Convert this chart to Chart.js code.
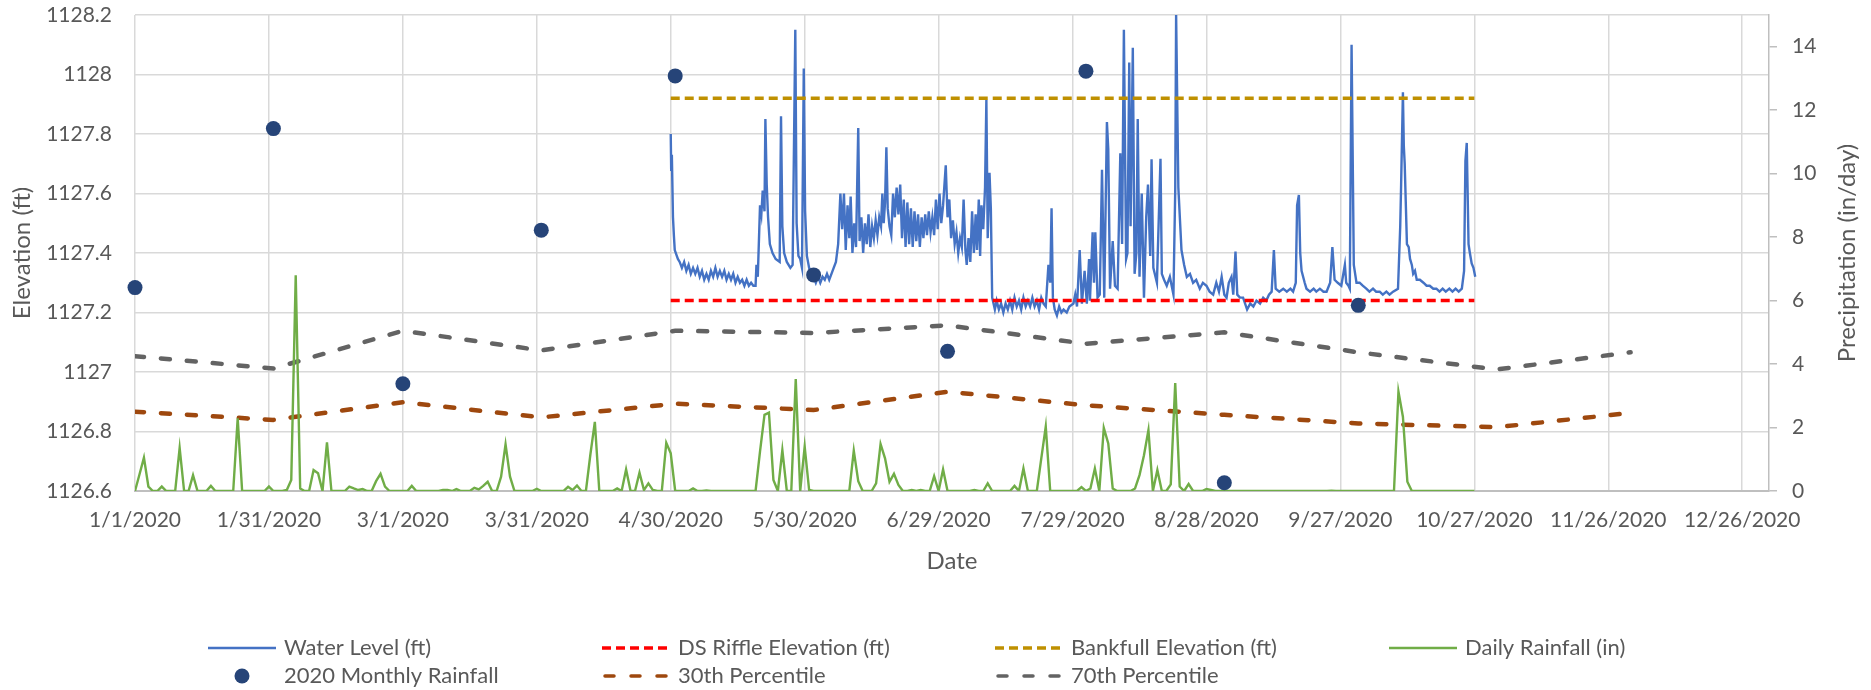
<!DOCTYPE html>
<html>
<head>
<meta charset="utf-8">
<script src="https://cdn.jsdelivr.net/npm/chart.js@4.4.0/dist/chart.umd.min.js"></script>
<style>
html,body{margin:0;padding:0;background:#ffffff;}
canvas{display:block;}
</style>
</head>
<body>
<canvas id="c" width="1871" height="690"></canvas>
<script>
// ---------- DATA (x values are days since 1/1/2020) ----------
const xTickLabels = ['1/1/2020','1/31/2020','3/1/2020','3/31/2020','4/30/2020','5/30/2020','6/29/2020','7/29/2020','8/28/2020','9/27/2020','10/27/2020','11/26/2020','12/26/2020'];

// Water level (ft), logger readings
const wlDay = [
120.0,120.1,120.25,120.5,120.7,120.9,121.6,122.0,122.5,123.0,123.5,124.0,124.5,125.0,125.5,126.0,126.5,127.0,127.5,128.0,
128.5,129.0,129.5,130.0,130.5,131.0,131.5,132.0,132.5,133.0,133.5,134.0,134.5,135.0,135.5,136.0,136.5,137.0,137.5,138.0,
138.5,139.0,139.2,139.5,140.0,140.3,140.6,141.0,141.2,141.5,141.8,142.2,142.8,143.5,144.4,144.7,145.0,145.4,146.0,146.8,
147.3,147.9,148.2,148.6,149.0,149.4,149.8,150.1,150.5,151.0,151.5,152.0,152.5,153.0,153.5,154.0,154.5,155.0,155.5,156.0,
156.5,157.0,157.5,158.0,158.4,158.8,159.2,159.6,160.0,160.3,160.7,161.1,161.5,162.0,162.3,162.7,163.1,163.5,163.9,164.3,
164.7,165.1,165.5,165.9,166.3,166.7,167.1,167.4,167.7,168.0,168.3,168.6,169.0,169.4,169.8,170.2,170.6,171.0,171.4,171.8,
172.2,172.6,173.0,173.4,173.8,174.2,174.6,175.0,175.4,175.8,176.2,176.6,177.0,177.4,177.8,178.2,178.6,179.0,179.4,179.8,
180.2,180.6,181.0,181.6,182.0,182.4,182.8,183.2,183.6,184.0,184.4,184.8,185.2,185.6,186.0,186.3,186.7,187.1,187.5,187.9,
188.3,188.6,189.0,189.3,189.6,190.0,190.4,190.7,191.0,191.4,191.7,192.0,192.3,192.6,193.0,193.5,194.0,194.5,195.0,195.5,
196.0,196.5,197.0,197.5,198.0,198.5,199.0,199.5,200.0,200.5,201.0,201.5,202.0,202.5,203.0,203.5,204.0,204.6,205.0,205.3,
205.6,206.0,206.5,207.0,207.5,208.0,208.7,209.3,210.2,210.6,211.0,211.6,212.1,212.7,213.2,213.7,213.9,214.5,214.8,215.1,
215.6,216.1,216.6,217.1,217.7,218.0,218.4,219.0,219.5,220.1,220.7,221.1,221.5,222.0,222.3,222.7,223.0,223.5,223.9,224.3,
224.6,225.0,225.5,226.0,226.5,226.9,227.4,227.7,228.1,228.9,229.7,230.0,230.5,231.1,231.8,232.6,233.0,233.2,233.7,234.4,
235.0,235.6,236.3,237.0,237.7,238.5,239.2,240.0,240.7,241.5,242.2,242.8,243.4,244.0,244.5,245.0,245.6,246.0,246.5,246.9,
247.5,248.2,249.1,249.8,250.5,251.2,252.0,252.7,253.4,254.0,254.6,255.1,255.5,256.3,257.2,258.0,258.8,259.4,260.0,260.3,
260.7,261.0,261.3,262.0,262.4,263.2,264.0,264.6,265.4,266.2,266.9,267.7,268.2,268.7,269.4,270.2,271.0,271.3,271.8,272.1,
272.5,273.0,273.6,274.3,275.0,275.8,276.5,277.3,278.0,278.8,279.5,280.3,281.0,281.8,282.9,283.4,283.6,284.0,284.2,284.4,
284.9,285.3,285.6,286.0,286.3,286.7,287.1,287.8,288.6,289.3,290.0,290.8,291.5,292.2,292.9,293.6,294.4,295.1,295.8,296.5,
297.2,297.7,298.0,298.3,298.7,299.0,299.4,299.8,300.2
];
const wlElev = [
1127.80,1127.68,1127.73,1127.52,1127.46,1127.41,1127.38,1127.37,1127.35,1127.37,1127.34,1127.36,1127.33,1127.35,1127.33,1127.35,1127.32,1127.34,1127.31,1127.33,
1127.31,1127.34,1127.32,1127.35,1127.32,1127.34,1127.32,1127.34,1127.31,1127.33,1127.31,1127.33,1127.30,1127.32,1127.30,1127.31,1127.29,1127.31,1127.29,1127.30,
1127.29,1127.29,1127.36,1127.32,1127.56,1127.53,1127.61,1127.54,1127.85,1127.63,1127.52,1127.43,1127.40,1127.38,1127.37,1127.86,1127.49,1127.40,1127.37,1127.35,
1127.36,1128.15,1127.50,1127.39,1127.38,1127.35,1128.02,1127.54,1127.39,1127.35,1127.33,1127.32,1127.30,1127.32,1127.30,1127.32,1127.31,1127.33,1127.31,1127.33,
1127.35,1127.37,1127.43,1127.60,1127.48,1127.60,1127.41,1127.56,1127.45,1127.59,1127.40,1127.50,1127.42,1127.82,1127.44,1127.52,1127.40,1127.50,1127.43,1127.53,
1127.42,1127.49,1127.45,1127.51,1127.46,1127.52,1127.49,1127.60,1127.50,1127.57,1127.755,1127.55,1127.49,1127.46,1127.60,1127.52,1127.62,1127.53,1127.63,1127.45,
1127.58,1127.42,1127.57,1127.43,1127.55,1127.42,1127.54,1127.44,1127.53,1127.42,1127.52,1127.45,1127.53,1127.46,1127.54,1127.47,1127.52,1127.46,1127.58,1127.48,
1127.60,1127.50,1127.56,1127.695,1127.52,1127.58,1127.45,1127.51,1127.43,1127.47,1127.40,1127.45,1127.42,1127.58,1127.41,1127.36,1127.45,1127.37,1127.54,1127.40,
1127.53,1127.41,1127.58,1127.39,1127.56,1127.48,1127.62,1127.915,1127.45,1127.67,1127.55,1127.25,1127.23,1127.21,1127.24,1127.21,1127.23,1127.20,1127.23,1127.21,
1127.24,1127.21,1127.25,1127.22,1127.24,1127.21,1127.25,1127.22,1127.24,1127.22,1127.25,1127.22,1127.24,1127.21,1127.25,1127.23,1127.22,1127.36,1127.30,1127.55,
1127.25,1127.21,1127.19,1127.22,1127.20,1127.21,1127.20,1127.22,1127.23,1127.26,1127.22,1127.41,1127.23,1127.34,1127.23,1127.38,1127.24,1127.47,1127.30,1127.47,
1127.25,1127.26,1127.68,1127.25,1127.84,1127.75,1127.28,1127.44,1127.29,1127.28,1127.735,1127.43,1128.15,1127.38,1127.40,1128.04,1127.49,1128.09,1127.33,1127.40,
1127.85,1127.32,1127.60,1127.25,1127.52,1127.63,1127.39,1127.715,1127.35,1127.30,1127.717,1127.33,1127.31,1127.29,1127.32,1127.26,1127.61,1128.20,1127.62,1127.41,
1127.36,1127.32,1127.33,1127.30,1127.31,1127.28,1127.30,1127.29,1127.27,1127.26,1127.30,1127.27,1127.32,1127.26,1127.25,1127.30,1127.32,1127.26,1127.405,1127.26,
1127.25,1127.25,1127.21,1127.23,1127.22,1127.24,1127.23,1127.25,1127.24,1127.26,1127.27,1127.41,1127.28,1127.27,1127.28,1127.27,1127.28,1127.27,1127.30,1127.56,
1127.595,1127.40,1127.34,1127.30,1127.28,1127.27,1127.28,1127.27,1127.28,1127.27,1127.27,1127.30,1127.42,1127.31,1127.30,1127.29,1127.36,1127.30,1127.29,1127.28,
1128.10,1127.36,1127.30,1127.30,1127.29,1127.28,1127.27,1127.28,1127.27,1127.27,1127.26,1127.27,1127.26,1127.27,1127.28,1127.49,1127.63,1127.94,1127.76,1127.70,
1127.43,1127.42,1127.38,1127.36,1127.33,1127.34,1127.31,1127.31,1127.30,1127.29,1127.29,1127.28,1127.28,1127.27,1127.28,1127.27,1127.28,1127.27,1127.28,1127.27,
1127.28,1127.34,1127.71,1127.77,1127.43,1127.40,1127.365,1127.35,1127.32
];

// Reference elevations (ft), logger period 4/30 - 10/27
const refDays = [120, 300];
const dsRiffleElev = [1127.24, 1127.24];
const bankfullElev = [1127.92, 1127.92];

// Daily rainfall (in), 1/1/2020 (day 0) to 10/27/2020 (day 300)
const dailyRain = [
0,0.52,1.05,0.14,0,0,0.14,0,0,0, 1.36,0,0,0.5,0,0,0,0.16,0,0,
0,0,0,2.29,0,0,0,0,0,0, 0.14,0,0,0,0.03,0.35,6.8,0.08,0,0,
0.66,0.56,0,1.53,0,0,0,0,0.14,0.08, 0.03,0.06,0,0,0.31,0.54,0.14,0,0,0,
0,0,0.16,0,0,0,0,0,0,0.03, 0.03,0,0.06,0,0,0,0.1,0.05,0.16,0.29,
0,0,0.45,1.47,0.45,0,0,0,0,0, 0.07,0,0,0,0,0,0,0.13,0.03,0.17,
0,0,1.15,2.18,0,0,0,0,0.08,0, 0.68,0,0,0.58,0.03,0.24,0.03,0,0,1.52,
1.19,0,0,0,0,0.08,0,0,0.02,0, 0,0,0,0,0,0,0,0,0,0,
1.25,2.4,2.47,0.35,0,1.29,0,0,3.53,0, 1.4,0.03,0,0,0,0,0,0,0,0,
0,1.27,0.31,0,0,0,0.24,1.48,1.03,0.29, 0.54,0.19,0,0,0.03,0,0.03,0,0,0.47,
0,0.68,0,0,0,0,0,0,0.03,0, 0,0.24,0,0,0,0,0,0.16,0,0.71,
0,0,0,1.03,2.03,0,0,0,0,0, 0,0,0.12,0,0.08,0.71,0,1.99,1.5,0.08,
0,0,0,0,0.08,0.5,1.13,1.92,0,0.66, 0,0,0.21,3.4,0.14,0,0.22,0,0,0,
0.06,0.03,0,0,0,0,0,0,0,0, 0,0,0,0,0,0,0,0,0,0,
0,0,0,0,0,0,0,0,0.01,0, 0,0,0,0,0,0,0,0,0,0,
0,0,0,3.13,2.34,0.29,0,0,0,0, 0,0,0,0,0,0,0,0,0,0,
0
];

// 2020 monthly rainfall (in), plotted on the first of each month
const monthDays = [0,31,60,91,121,152,182,213,244,274];
const monthlyRain2020 = [6.41,11.42,3.38,8.22,13.08,6.81,4.40,13.23,0.26,5.85];

// Historic monthly rainfall percentiles (in), first of each month Jan-Dec
const pctDays = [0,31,60,91,121,152,182,213,244,274,305,335];
const pct30 = [2.50,2.24,2.80,2.32,2.75,2.55,3.13,2.70,2.40,2.13,2.01,2.46];
const pct70 = [4.25,3.86,5.05,4.43,5.05,4.98,5.22,4.64,5.00,4.37,3.83,4.37];

// ---------- helpers ----------
const pts = (xs, ys) => xs.map((x, i) => ({x: x, y: ys[i]}));
const FONT = 'Lato, "Open Sans", sans-serif';
const TXT = '#595959';

const waterLevel = pts(wlDay, wlElev);
const riffle = pts(refDays, dsRiffleElev);
const bankfull = pts(refDays, bankfullElev);
const rain = dailyRain.map((v, i) => ({x: i, y: v}));
const monthly = pts(monthDays, monthlyRain2020);
const p30 = pts(pctDays, pct30);
const p70 = pts(pctDays, pct70);

const legendRows = [
  ['Water Level (ft)', 'DS Riffle Elevation (ft)', 'Bankfull Elevation (ft)', 'Daily Rainfall (in)'],
  ['2020 Monthly Rainfall', '30th Percentile', '70th Percentile']
];

const overlayPlugin = {
  id: 'overlay',
  afterDraw(chart) {
    const ctx = chart.ctx;
    const ca = chart.chartArea;
    ctx.save();
    ctx.fillStyle = TXT;
    ctx.font = '24px ' + FONT;
    ctx.textAlign = 'center';
    ctx.textBaseline = 'middle';
    // axis titles
    ctx.fillText('Date', (ca.left + ca.right) / 2, 561);
    const cy = (ca.top + ca.bottom) / 2;
    ctx.save(); ctx.translate(22, cy); ctx.rotate(-Math.PI / 2); ctx.fillText('Elevation (ft)', 0, 0); ctx.restore();
    ctx.save(); ctx.translate(1847, cy); ctx.rotate(-Math.PI / 2); ctx.fillText('Precipitation (in/day)', 0, 0); ctx.restore();
    // legend
    ctx.font = '22px ' + FONT;
    const textX = [284, 678, 1071, 1465];
    const rowY = [648, 676];
    const sampleW = 68;
    ctx.textAlign = 'left';
    legendRows.forEach((row, r) => {
      row.forEach((label, c) => {
        const ds = chart.data.datasets.find(d => d.label === label);
        const x1 = textX[c] - 8, x0 = x1 - sampleW, y = rowY[r];
        if (ds.showLine === false) {
          ctx.beginPath();
          ctx.fillStyle = ds.pointBackgroundColor;
          ctx.arc((x0 + x1) / 2, y, ds.pointRadius, 0, Math.PI * 2);
          ctx.fill();
        } else {
          ctx.beginPath();
          ctx.strokeStyle = ds.borderColor;
          ctx.lineWidth = Math.min(ds.borderWidth, 3.5);
          ctx.setLineDash(ds.borderDash || []);
          ctx.lineCap = ds.borderCapStyle || 'butt';
          ctx.moveTo(x0 + (ds.borderCapStyle === 'round' ? 3 : 0), y);
          ctx.lineTo(x1, y);
          ctx.stroke();
          ctx.setLineDash([]);
        }
        ctx.fillStyle = TXT;
        ctx.fillText(label, textX[c], y);
      });
    });
    ctx.restore();
  }
};

const noEdgePad = s => { s.paddingTop = 0; s.paddingBottom = 0; };

new Chart(document.getElementById('c'), {
  type: 'line',
  data: {
    datasets: [
      {label: 'Water Level (ft)', data: waterLevel, yAxisID: 'y', borderColor: '#4472C4', backgroundColor: '#4472C4', borderWidth: 2.4, pointRadius: 0, tension: 0, order: 7},
      {label: 'DS Riffle Elevation (ft)', data: riffle, yAxisID: 'y', borderColor: '#FF0000', backgroundColor: '#FF0000', borderWidth: 3.5, borderDash: [9, 5], pointRadius: 0, order: 6},
      {label: 'Bankfull Elevation (ft)', data: bankfull, yAxisID: 'y', borderColor: '#BF9000', backgroundColor: '#BF9000', borderWidth: 3.5, borderDash: [9, 5], pointRadius: 0, order: 5},
      {label: 'Daily Rainfall (in)', data: rain, yAxisID: 'y2', borderColor: '#70AD47', backgroundColor: '#70AD47', borderWidth: 2.4, pointRadius: 0, tension: 0, order: 2},
      {label: '2020 Monthly Rainfall', data: monthly, yAxisID: 'y2', showLine: false, pointRadius: 7.5, pointBackgroundColor: '#264478', pointBorderColor: '#264478', pointBorderWidth: 0, borderColor: '#264478', backgroundColor: '#264478', clip: false, order: 1},
      {label: '30th Percentile', data: p30, yAxisID: 'y2', borderColor: '#9E480E', backgroundColor: '#9E480E', borderWidth: 4.5, borderDash: [9, 17], borderCapStyle: 'round', pointRadius: 0, order: 4},
      {label: '70th Percentile', data: p70, yAxisID: 'y2', borderColor: '#636363', backgroundColor: '#636363', borderWidth: 4.5, borderDash: [9, 17], borderCapStyle: 'round', pointRadius: 0, order: 3}
    ]
  },
  options: {
    responsive: false,
    animation: false,
    devicePixelRatio: 1,
    layout: {padding: {top: 15, left: 0, right: 0, bottom: 0}},
    plugins: {legend: {display: false}, tooltip: {enabled: false}},
    scales: {
      x: {
        type: 'linear', min: 0, max: 366,
        afterFit: s => { s.height = 199; },
        ticks: {
          stepSize: 30, includeBounds: false, autoSkip: false, maxRotation: 0, minRotation: 0,
          padding: 17, color: TXT, font: {family: FONT, size: 21},
          callback: v => xTickLabels[Math.round(v / 30)]
        },
        grid: {color: '#D9D9D9', lineWidth: 1.5, drawTicks: false},
        border: {display: true, color: '#BFBFBF', width: 2}
      },
      y: {
        position: 'left', min: 1126.6, max: 1128.2,
        afterFit: s => { s.width = 135; noEdgePad(s); },
        ticks: {stepSize: 0.2, padding: 23, color: TXT, font: {family: FONT, size: 21},
          callback: v => String(parseFloat(Number(v).toFixed(1)))},
        grid: {color: '#D9D9D9', lineWidth: 1.5, drawTicks: false},
        border: {display: false}
      },
      y2: {
        position: 'right', min: 0, max: 15,
        afterFit: s => { s.width = 102; noEdgePad(s); },
        ticks: {stepSize: 2, includeBounds: false, padding: 15, color: TXT, font: {family: FONT, size: 21}},
        grid: {drawOnChartArea: false, drawTicks: true, tickLength: 8, color: '#BFBFBF', lineWidth: 1.5},
        border: {display: true, color: '#BFBFBF', width: 1.5}
      }
    }
  },
  plugins: [overlayPlugin]
});
</script>
</body>
</html>
